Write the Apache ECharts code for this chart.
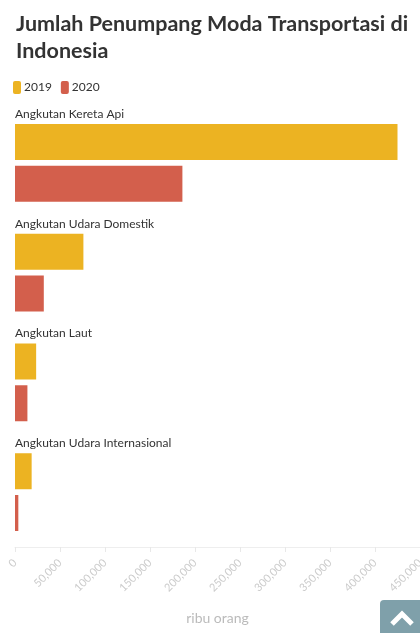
<!DOCTYPE html>
<html>
<head>
<meta charset="utf-8">
<script src="https://cdn.jsdelivr.net/npm/echarts@6/dist/echarts.min.js"></script>
<style>
html,body{margin:0;padding:0;background:#fff;overflow:hidden;}
#c{width:420px;height:633px;}
</style>
</head>
<body>
<div id="c"></div>
<script>
const categories = ["Angkutan Kereta Api", "Angkutan Udara Domestik", "Angkutan Laut", "Angkutan Udara Internasional"];
const values2019 = [425000, 76000, 23500, 18500];
const values2020 = [186000, 32000, 13800, 3700];
const seriesNames = ["2019", "2020"];
const axisName = "ribu orang";
const titleText = "Jumlah Penumpang Moda Transportasi di\nIndonesia";

const chart = echarts.init(document.getElementById('c'), null, {renderer: 'canvas', width: 420, height: 633});
const font = 'Lato, "Noto Sans", sans-serif';
chart.setOption({
  animation: false,
  textStyle: {fontFamily: font},
  title: {
    text: titleText,
    left: 11, top: 6,
    textStyle: {fontSize: 21.5, fontWeight: 'bold', color: '#333', lineHeight: 27, fontFamily: font}
  },
  legend: {
    data: seriesNames,
    left: 8, top: 76,
    itemWidth: 8, itemHeight: 13, itemGap: 9,
    icon: 'roundRect',
    textStyle: {fontSize: 12, color: '#333', padding: [0, 0, 0, -2]}
  },
  grid: {left: 15, right: 0, top: 108, bottom: 86, containLabel: false, outerBoundsMode: 'none'},
  xAxis: {
    type: 'value', min: 0, max: 450000, interval: 50000,
    name: axisName, nameLocation: 'middle', nameGap: 64,
    nameTextStyle: {color: '#bbb', fontSize: 14},
    axisLine: {show: true, lineStyle: {color: '#eee'}},
    axisTick: {show: true, length: 5, lineStyle: {color: '#e8e8e8'}},
    splitLine: {show: false},
    axisLabel: {rotate: 45, color: '#ccc', fontSize: 11, margin: 14, hideOverlap: false,
      formatter: v => v.toLocaleString('en-US')}
  },
  yAxis: {
    type: 'category', data: categories, inverse: true,
    axisLine: {show: false}, axisTick: {show: false}, axisLabel: {show: false}
  },
  series: [
    {
      name: seriesNames[0], type: 'bar', data: values2019,
      barWidth: 36, barGap: '16%',
      itemStyle: {color: '#ecb322'},
      label: {show: true, position: [0, -16], formatter: '{b}', color: '#333', fontSize: 12}
    },
    {
      name: seriesNames[1], type: 'bar', data: values2020,
      barWidth: 36,
      itemStyle: {color: '#d35f4c'}
    }
  ],
  graphic: [
    {type: 'rect', shape: {x: 380, y: 600, width: 45, height: 40, r: 4}, style: {fill: '#7fa0aa'}},
    {type: 'polyline', shape: {points: [[392, 624], [402, 614], [412, 624]]}, style: {stroke: '#fff', lineWidth: 5, fill: null}}
  ]
});
</script>
</body>
</html>
